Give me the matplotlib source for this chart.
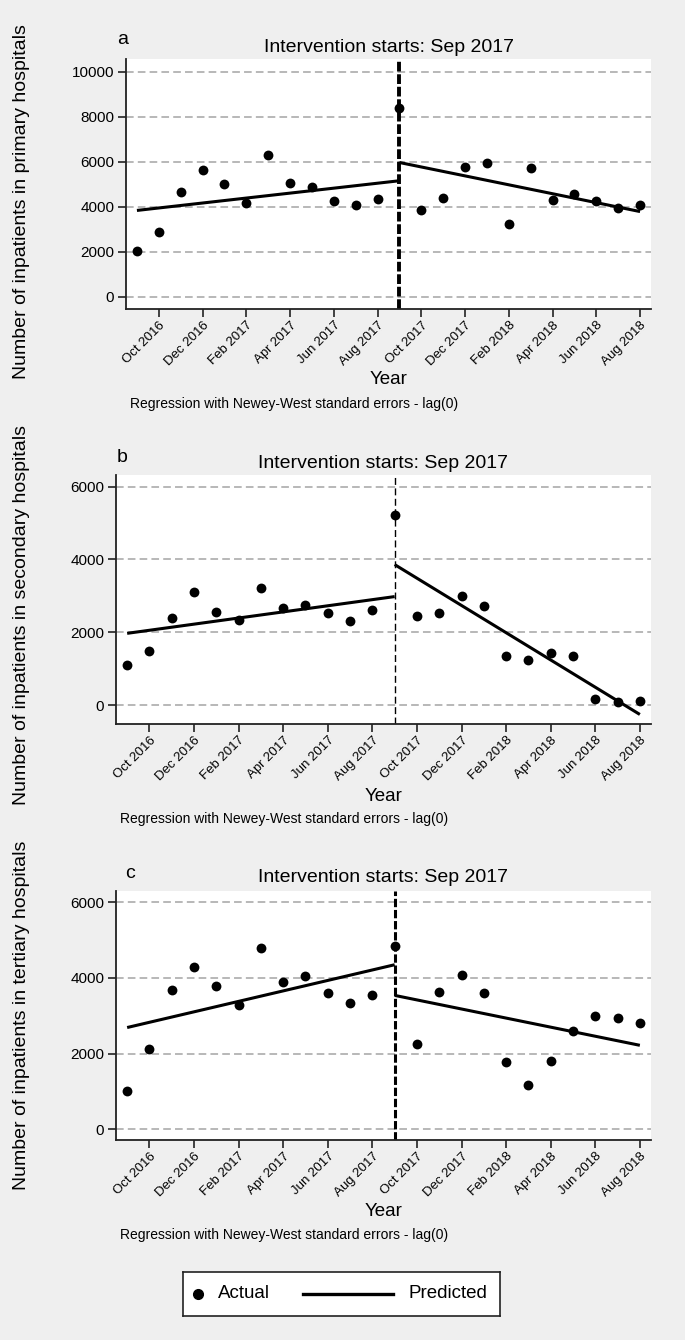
import matplotlib
matplotlib.use('Agg')
import matplotlib.pyplot as plt
from matplotlib.lines import Line2D

plt.rcParams['font.family'] = ['Liberation Sans', 'DejaVu Sans']
plt.rcParams['lines.scale_dashes'] = False

# months Sep 2016 .. Aug 2018 as index 0..23, intervention at Sep 2017
months = list(range(24))
intervention = 12
tick_pos = [1, 3, 5, 7, 9, 11, 13, 15, 17, 19, 21, 23]
tick_labels = ['Oct 2016', 'Dec 2016', 'Feb 2017', 'Apr 2017', 'Jun 2017', 'Aug 2017',
               'Oct 2017', 'Dec 2017', 'Feb 2018', 'Apr 2018', 'Jun 2018', 'Aug 2018']

primary = [2030, 2890, 4670, 5640, 4990, 4140, 6300, 5050, 4890, 4230, 4080, 4330,
           8370, 3830, 4400, 5770, 5920, 3210, 5700, 4300, 4540, 4270, 3930, 4080]
secondary = [1100, 1490, 2380, 3100, 2550, 2340, 3220, 2680, 2760, 2520, 2320, 2610,
             5230, 2450, 2520, 2990, 2720, 1360, 1240, 1440, 1360, 160, 90, 110]
tertiary = [1000, 2110, 3670, 4290, 3790, 3290, 4800, 3900, 4040, 3590, 3350, 3550,
            4850, 2260, 3640, 4090, 3590, 1770, 1160, 1810, 2610, 3000, 2930, 2810]

# predicted segments (start, end) before and after the intervention
pre_x = [0, 12]
post_x = [12, 23]
primary_pre = [3830, 5150]
primary_post = [5960, 3780]
secondary_pre = [1970, 2980]
secondary_post = [3860, -260]
tertiary_pre = [2690, 4350]
tertiary_post = [3540, 2220]

W, H = 685, 1340
BG = '#efefef'


def fx(px):
    return px / W


def fy(py):
    return 1 - py / H


panels = [
    dict(letter='a', actual=primary, pre=primary_pre, post=primary_post,
         ylabel='Number of inpatients in primary hospitals',
         box=(126, 59, 651, 309), ylim=(-550, 10560), yticks=[0, 2000, 4000, 6000, 8000, 10000],
         vlw=2.8, vdash=(7, 2), letter_xy=(117, 39), title_y=47, year_y=380,
         note_xy=(130, 404), ylab_xy=(22, 202)),
    dict(letter='b', actual=secondary, pre=secondary_pre, post=secondary_post,
         ylabel='Number of inpatients in secondary hospitals',
         box=(116, 475, 651, 724), ylim=(-522, 6322), yticks=[0, 2000, 4000, 6000],
         vlw=1.0, vdash=(5, 2.5), letter_xy=(117, 457), title_y=463, year_y=797,
         note_xy=(120, 819), ylab_xy=(22, 615)),
    dict(letter='c', actual=tertiary, pre=tertiary_pre, post=tertiary_post,
         ylabel='Number of inpatients in tertiary hospitals',
         box=(116, 891, 651, 1140), ylim=(-283, 6299), yticks=[0, 2000, 4000, 6000],
         vlw=2.2, vdash=(6, 2), letter_xy=(125, 873), title_y=878, year_y=1212,
         note_xy=(120, 1235), ylab_xy=(22, 1015)),
]

fig = plt.figure(figsize=(W / 100, H / 100), dpi=100, facecolor=BG)

for p in panels:
    l, t, r, b = p['box']
    ax = fig.add_axes([fx(l), fy(b), fx(r) - fx(l), fy(t) - fy(b)])
    ax.set_facecolor('white')
    for s in ['top', 'right']:
        ax.spines[s].set_visible(False)
    for s in ['left', 'bottom']:
        ax.spines[s].set_color('#222222')
        ax.spines[s].set_linewidth(1.3)

    ax.set_xlim(-0.5, 23.5)
    ax.set_ylim(*p['ylim'])
    ax.set_yticks(p['yticks'])
    ax.set_yticklabels([str(v) for v in p['yticks']], fontsize=11)
    ax.set_xticks(tick_pos)
    ax.set_xticklabels(tick_labels, fontsize=9.5, rotation=45, ha='right',
                       rotation_mode='anchor')
    ax.tick_params(axis='both', direction='out', length=5.5, width=1.2, color='#222222')
    ax.tick_params(axis='x', pad=2)
    ax.tick_params(axis='y', pad=3)

    for v in p['yticks']:
        ax.axhline(v, color='#ababab', lw=1.2, dashes=(5.5, 3), zorder=1)

    ax.axvline(intervention, color='black', lw=p['vlw'], dashes=p['vdash'], zorder=2)
    ax.scatter(months, p['actual'], s=50, color='black', zorder=4, linewidths=0)
    ax.plot(pre_x, p['pre'], color='black', lw=2.2, zorder=3, solid_capstyle='butt')
    ax.plot(post_x, p['post'], color='black', lw=2.2, zorder=3, solid_capstyle='butt')

    cx = (fx(l) + fx(r)) / 2
    fig.text(fx(p['letter_xy'][0]), fy(p['letter_xy'][1]), p['letter'], fontsize=14,
             ha='left', va='center')
    fig.text(cx, fy(p['title_y']), 'Intervention starts: Sep 2017', fontsize=14,
             ha='center', va='center')
    fig.text(cx, fy(p['year_y']), 'Year', fontsize=13.5, ha='center', va='center')
    fig.text(fx(p['note_xy'][0]), fy(p['note_xy'][1]),
             'Regression with Newey-West standard errors - lag(0)', fontsize=10,
             ha='left', va='center')
    fig.text(fx(p['ylab_xy'][0]), fy(p['ylab_xy'][1]), p['ylabel'], fontsize=14,
             rotation=90, ha='center', va='center')

# legend box
leg = fig.add_axes([fx(183), fy(1316), fx(500) - fx(183), fy(1272) - fy(1316)])
leg.set_xlim(0, 317)
leg.set_ylim(0, 44)
leg.set_facecolor('white')
leg.set_xticks([])
leg.set_yticks([])
for s in leg.spines.values():
    s.set_linewidth(1.2)
    s.set_color('#222222')
leg.add_line(Line2D([15], [22], marker='o', ms=7, color='black', ls='none'))
leg.text(35, 22, 'Actual', fontsize=13.5, ha='left', va='center')
leg.add_line(Line2D([120, 210], [22, 22], color='black', lw=2.4))
leg.text(225, 22, 'Predicted', fontsize=13.5, ha='left', va='center')

fig.savefig('out.png', dpi=100, facecolor=BG)
